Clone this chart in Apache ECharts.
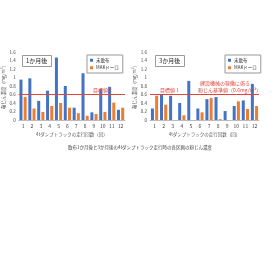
<!DOCTYPE html>
<html>
<head>
<meta charset="utf-8">
<script src="https://cdn.jsdelivr.net/npm/echarts@6/dist/echarts.min.js"></script>
<style>
html, body { margin: 0; padding: 0; background: #fff; }
#main { width: 280px; height: 280px; }
</style>
</head>
<body>
<div id="main"></div>
<script>
// 走行回数
var categories = ['1', '2', '3', '4', '5', '6', '7', '8', '9', '10', '11', '12'];
// 1か月後
var month1Untreated = [0.95, 0.98, 0.45, 0.69, 1.47, 0.80, 0.29, 1.10, 0.18, 0.72, 0.78, 0.24];
var month1Mak = [0.54, 0.27, 0.19, 0.33, 0.40, 0.29, 0.16, 0.10, 0.14, 0.19, 0.41, 0.29];
// 3か月後
var month3Untreated = [0.27, 0.60, 0.57, 0.40, 0.92, 0.27, 0.49, 0.54, 0.21, 0.33, 0.46, 0.85];
var month3Mak = [0.57, 0.36, 0, 0.11, 0, 0.18, 0.52, 0.02, 0, 0.44, 0.26, 0.33];
var limitValue = 0.6;

var font = '"Noto Sans CJK JP", sans-serif';
var blue = '#4472c4';
var orange = '#ed7d31';
var red = '#e0443c';

function xAxisFor(i) {
	return {
		type: 'category',
		gridIndex: i,
		data: categories,
		name: '4tダンプトラックの走行回数（回）',
		nameLocation: 'middle',
		nameGap: 12,
		nameTextStyle: { fontSize: 4.5, color: '#555', fontFamily: font },
		axisLine: { lineStyle: { color: '#bbb', width: 1 } },
		axisTick: { length: 2, lineStyle: { color: '#bbb' } },
		axisLabel: { fontSize: 5, color: '#444', margin: 4, fontFamily: font }
	};
}
function yAxisFor(i) {
	return {
		type: 'value',
		gridIndex: i,
		min: 0,
		max: 1.6,
		interval: 0.2,
		name: '粉じん濃度（mg/m³）',
		nameLocation: 'middle',
		nameGap: 10,
		nameTextStyle: { fontSize: 4.5, color: '#555', fontFamily: font },
		axisLine: { show: false },
		axisTick: { show: false },
		splitLine: { show: false },
		axisLabel: { fontSize: 4.5, color: '#444', margin: 3, fontFamily: font }
	};
}
function barSeries(name, data, color, i, withLine) {
	var s = {
		name: name,
		type: 'bar',
		xAxisIndex: i,
		yAxisIndex: i,
		data: data,
		barWidth: 3,
		barGap: '40%',
		itemStyle: { color: color }
	};
	if (withLine) {
		s.markLine = {
			silent: true,
			symbol: 'none',
			label: { show: false },
			lineStyle: { color: red, width: 1, type: 'solid' },
			data: [{ yAxis: limitValue }]
		};
	}
	return s;
}
function legendFor(left) {
	return {
		left: left,
		top: 55,
		orient: 'vertical',
		itemWidth: 3,
		itemHeight: 3,
		itemGap: 3,
		padding: [3, 4, 3, 3],
		borderColor: '#999',
		borderWidth: 1,
		backgroundColor: '#fff',
		icon: 'rect',
		textStyle: { fontSize: 4.5, color: '#333', fontFamily: font, padding: [0, 0, 0, -2] },
		data: ['未散布', 'MAKドーロ']
	};
}
function boxTitle(text, left) {
	return {
		text: text,
		left: left,
		top: 55,
		padding: [3, 4, 3, 4],
		borderColor: '#999',
		borderWidth: 1,
		textStyle: { fontSize: 6, fontWeight: 'normal', color: '#222', fontFamily: font }
	};
}
function redText(text, x, y) {
	return {
		type: 'text',
		left: x,
		top: y,
		z: 10,
		style: { text: text, fill: red, font: '5px ' + font }
	};
}

var option = {
	animation: false,
	backgroundColor: '#fff',
	title: [
		boxTitle('1か月後', 22),
		boxTitle('3か月後', 155),
		{
			text: '散布1か月後と3か月後の4tダンプトラック走行時の各区画の粉じん濃度',
			left: 'center',
			top: 140,
			textStyle: { fontSize: 4.5, fontWeight: 'normal', color: '#444', fontFamily: font }
		}
	],
	legend: [legendFor(87), legendFor(225)],
	grid: [
		{ left: 17, right: 155, top: 52, bottom: 160 },
		{ left: 150, right: 21, top: 52, bottom: 160 }
	],
	xAxis: [xAxisFor(0), xAxisFor(1)],
	yAxis: [yAxisFor(0), yAxisFor(1)],
	series: [
		barSeries('未散布', month1Untreated, blue, 0, true),
		barSeries('MAKドーロ', month1Mak, orange, 0, false),
		barSeries('未散布', month3Untreated, blue, 1, true),
		barSeries('MAKドーロ', month3Mak, orange, 1, false)
	],
	graphic: [
		redText('目標値 1', 93, 88),
		redText('目標値 1', 160, 88),
		redText('建設機械の稼働に係る', 200, 81),
		redText('粉じん基準値（0.6mg/m³）', 198, 88)
	]
};

var myChart = echarts.init(document.getElementById('main'));
myChart.setOption(option);
</script>
</body>
</html>
